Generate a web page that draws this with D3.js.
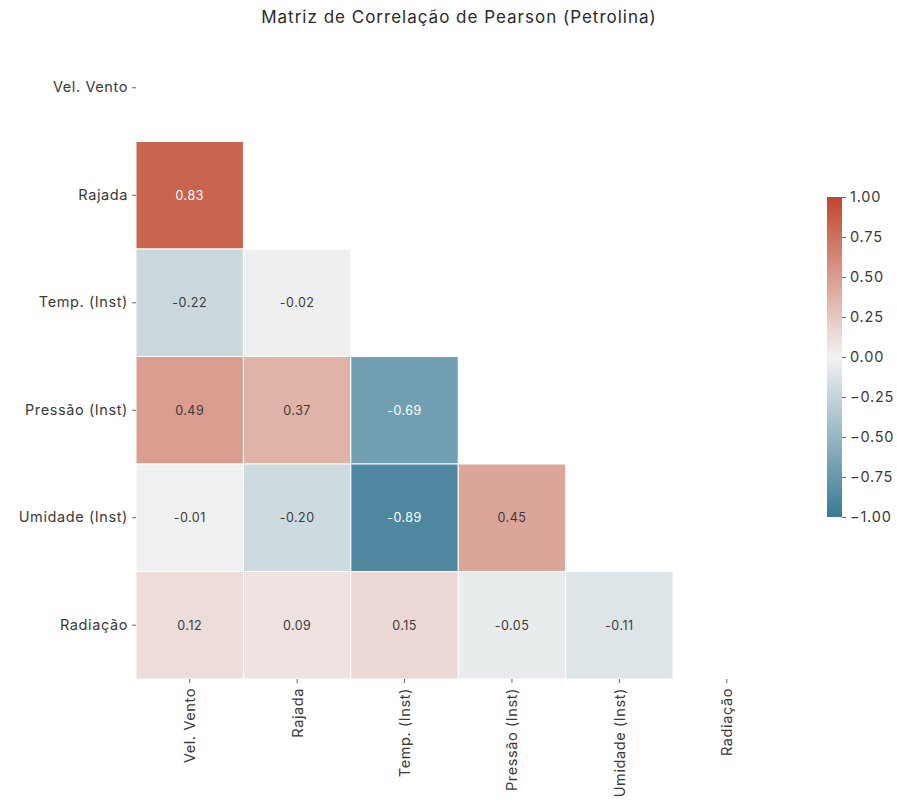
<!DOCTYPE html>
<html>
<head>
<meta charset="utf-8">
<script src="https://cdn.jsdelivr.net/npm/d3@7"></script>
<style>
  html, body { margin: 0; padding: 0; background: #fff; }
  svg { display: block; }
  text { font-family: Inter, "Open Sans", sans-serif; }
</style>
</head>
<body>
<svg id="chart" width="897" height="804"></svg>
<script>
// Variables in the correlation matrix
const variables = ["Vel. Vento", "Rajada", "Temp. (Inst)", "Pressão (Inst)", "Umidade (Inst)", "Radiação"];

// Lower-triangle Pearson coefficients, one array per row (row i has i entries)
const rowRajada   = [0.83];
const rowTemp     = [-0.22, -0.02];
const rowPressao  = [0.49, 0.37, -0.69];
const rowUmidade  = [-0.01, -0.20, -0.89, 0.45];
const rowRadiacao = [0.12, 0.09, 0.15, -0.05, -0.11];
const lowerRows = [[], rowRajada, rowTemp, rowPressao, rowUmidade, rowRadiacao];

const colorbarTicks = [1.00, 0.75, 0.50, 0.25, 0.00, -0.25, -0.50, -0.75, -1.00];
const title = "Matriz de Correlação de Pearson (Petrolina)";

const FONT = "Inter, 'Open Sans', sans-serif";
const TEXT = "#3a3a3a";

const svg = d3.select("#chart");

// Diverging palette: blue (negative) -> light grey -> red (positive)
const color = d3.scaleLinear()
  .domain([-1, 0, 1])
  .range(["#3a7a95", "#f2f2f2", "#c0472c"])
  .interpolate(d3.interpolateRgb)
  .clamp(true);

const x = d3.scaleBand().domain(variables).range([136, 780.5]).padding(0);
const y = d3.scaleBand().domain(variables).range([34, 679]).padding(0);

// Flatten the lower triangle into cells
const cells = [];
lowerRows.forEach((vals, i) => {
  vals.forEach((v, j) => cells.push({ row: variables[i], col: variables[j], value: v }));
});

// Title
svg.append("text")
  .attr("x", 459).attr("y", 23)
  .attr("text-anchor", "middle")
  .attr("font-size", 17)
  .attr("letter-spacing", 1)
  .attr("fill", "#2a2a2a")
  .text(title);

// Heatmap cells
const g = svg.append("g");
g.selectAll("rect.cell")
  .data(cells)
  .join("rect")
  .attr("class", "cell")
  .attr("x", d => x(d.col))
  .attr("y", d => y(d.row))
  .attr("width", x.bandwidth())
  .attr("height", y.bandwidth())
  .attr("fill", d => color(d.value))
  .attr("stroke", "#fff")
  .attr("stroke-width", 1);

// Annotations: light text on dark cells
function textColor(v) {
  const c = d3.rgb(color(v));
  const lin = ch => { ch /= 255; return ch <= 0.03928 ? ch / 12.92 : Math.pow((ch + 0.055) / 1.055, 2.4); };
  const lum = 0.2126 * lin(c.r) + 0.7152 * lin(c.g) + 0.0722 * lin(c.b);
  return lum > 0.408 ? "#3a3a3a" : "#fff";
}
g.selectAll("text.annot")
  .data(cells)
  .join("text")
  .attr("class", "annot")
  .attr("x", d => x(d.col) + x.bandwidth() / 2)
  .attr("y", d => y(d.row) + y.bandwidth() / 2)
  .attr("text-anchor", "middle")
  .attr("dominant-baseline", "central")
  .attr("font-size", 12.5)
  .attr("letter-spacing", 0.5)
  .attr("fill", d => textColor(d.value))
  .text(d => d3.format(".2f")(d.value).replace("−", "-"));

// Axes
const yAxis = svg.append("g")
  .attr("transform", "translate(136,0)")
  .call(d3.axisLeft(y).tickSize(4).tickPadding(4));
yAxis.select(".domain").remove();
yAxis.selectAll(".tick line").attr("stroke", "#666");
yAxis.selectAll(".tick text").attr("font-size", 14.5).attr("fill", TEXT)
  .attr("letter-spacing", 0.6)
  .style("font-family", FONT);

const xAxis = svg.append("g")
  .attr("transform", "translate(0,679)")
  .call(d3.axisBottom(x).tickSize(4).tickPadding(4));
xAxis.select(".domain").remove();
xAxis.selectAll(".tick line").attr("stroke", "#666");
xAxis.selectAll(".tick text")
  .attr("font-size", 14.5).attr("fill", TEXT)
  .attr("letter-spacing", 0.6)
  .style("font-family", FONT)
  .attr("text-anchor", "end")
  .attr("dominant-baseline", "central")
  .attr("transform", "rotate(-90)")
  .attr("x", -9).attr("y", 0).attr("dy", null);

// Colorbar
const cbX = 827, cbW = 15;
const cbScale = d3.scaleLinear().domain([-1, 1]).range([517, 197]);
const defs = svg.append("defs");
const grad = defs.append("linearGradient").attr("id", "cbGrad")
  .attr("x1", 0).attr("y1", 1).attr("x2", 0).attr("y2", 0);
d3.range(-1, 1.0001, 0.1).forEach(v => {
  grad.append("stop").attr("offset", (v + 1) / 2).attr("stop-color", color(v));
});
svg.append("rect")
  .attr("x", cbX).attr("y", cbScale(1))
  .attr("width", cbW).attr("height", cbScale(-1) - cbScale(1))
  .attr("fill", "url(#cbGrad)");
const cbAxis = svg.append("g")
  .attr("transform", `translate(${cbX + cbW},0)`)
  .call(d3.axisRight(cbScale).tickValues(colorbarTicks).tickSize(4).tickPadding(4)
    .tickFormat(d3.format(".2f")));
cbAxis.select(".domain").remove();
cbAxis.selectAll(".tick line").attr("stroke", "#666");
cbAxis.selectAll(".tick text").attr("font-size", 14.5).attr("fill", TEXT)
  .attr("letter-spacing", 0.8)
  .style("font-family", FONT);
</script>
</body>
</html>
